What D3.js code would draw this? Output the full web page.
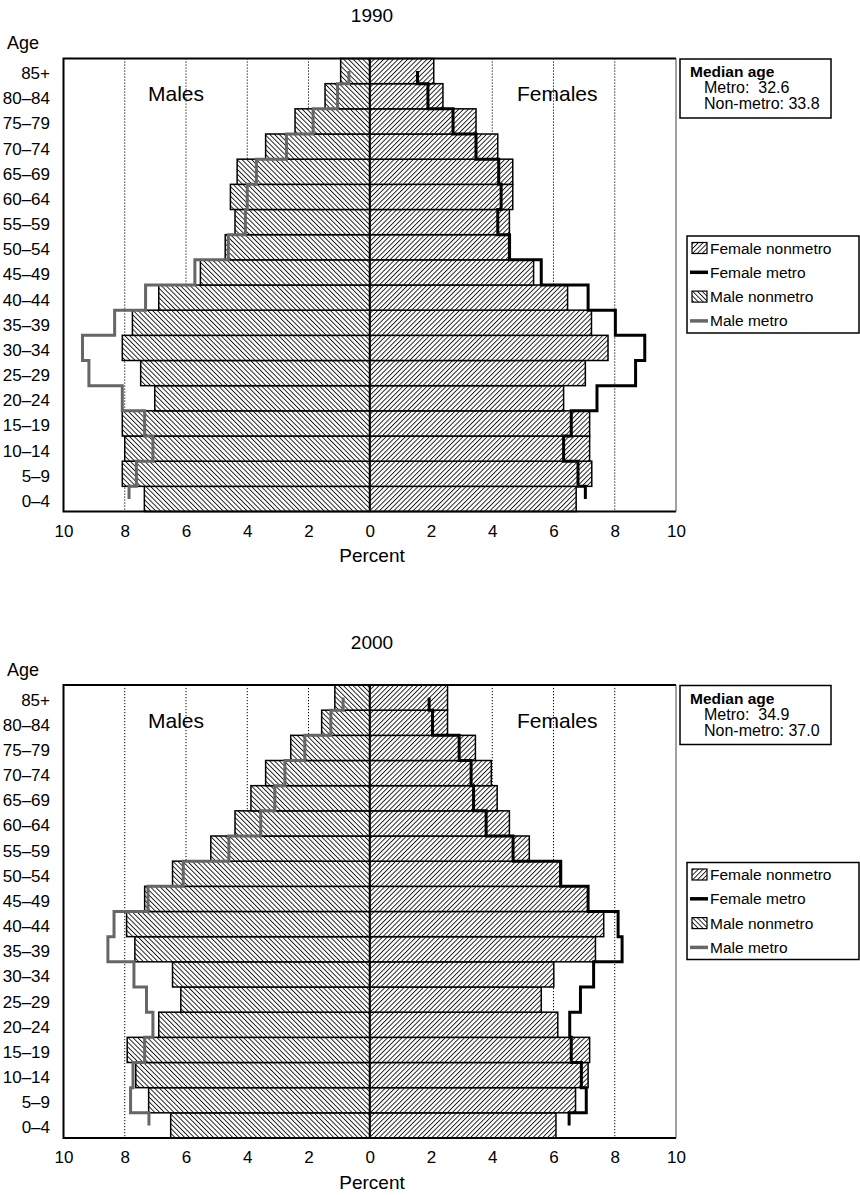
<!DOCTYPE html>
<html>
<head>
<meta charset="utf-8">
<script src="https://cdn.jsdelivr.net/npm/d3@7"></script>
<style>
  body { margin: 0; background: #fff; }
  svg { display: block; font-family: "Liberation Sans", Arial, Helvetica, sans-serif; }
</style>
</head>
<body>
<svg id="chart" width="860" height="1195"></svg>
<script>
// Age groups, youngest first
const ageGroups = ["0–4","5–9","10–14","15–19","20–24","25–29","30–34","35–39","40–44",
                   "45–49","50–54","55–59","60–64","65–69","70–74","75–79","80–84","85+"];

// Percent of population in each age group, 1990
const maleNonmetro1990   = [7.36, 8.08, 8.00, 8.08, 7.02, 7.48, 8.08, 7.75, 6.89, 5.53, 4.72, 4.40, 4.55, 4.33, 3.40, 2.44, 1.46, 0.95];
const maleMetro1990      = [7.86, 7.62, 7.08, 7.35, 8.08, 9.17, 9.38, 8.33, 7.32, 5.71, 4.62, 4.06, 4.00, 3.70, 2.72, 1.85, 1.05, 0.68];
const femaleNonmetro1990 = [6.74, 7.25, 7.18, 7.18, 6.33, 7.04, 7.78, 7.24, 6.46, 5.35, 4.59, 4.56, 4.67, 4.67, 4.18, 3.47, 2.39, 2.09];
const femaleMetro1990    = [7.04, 6.80, 6.33, 6.58, 7.42, 8.68, 8.98, 8.02, 7.13, 5.60, 4.56, 4.18, 4.29, 4.21, 3.47, 2.72, 1.90, 1.56];

// Percent of population in each age group, 2000
const maleNonmetro2000   = [6.50, 7.22, 7.64, 7.92, 6.89, 6.17, 6.44, 7.67, 7.94, 7.35, 6.44, 5.19, 4.40, 3.88, 3.40, 2.58, 1.57, 1.14];
const maleMetro2000      = [7.21, 7.81, 7.73, 7.35, 7.08, 7.29, 7.70, 8.55, 8.35, 7.24, 6.09, 4.60, 3.56, 3.10, 2.77, 2.12, 1.27, 0.87];
const femaleNonmetro2000 = [6.08, 6.72, 7.13, 7.18, 6.14, 5.60, 6.01, 7.37, 7.64, 7.13, 6.26, 5.21, 4.56, 4.16, 3.97, 3.45, 2.54, 2.54];
const femaleMetro2000    = [6.51, 7.07, 6.91, 6.58, 6.53, 6.88, 7.31, 8.24, 8.11, 7.13, 6.23, 4.68, 3.80, 3.39, 3.31, 2.92, 2.05, 1.94];

// Median ages
const medianMetro    = ["32.6", "34.9"];
const medianNonmetro = ["33.8", "37.0"];
const years = ["1990", "2000"];

// Axis ticks and dotted guide lines
const xTicks = [-10, -8, -6, -4, -2, 0, 2, 4, 6, 8, 10];
const gridValues = [-8, -6, -4, -2, 2, 4, 6, 8];

const legendItems = [
  { label: "Female nonmetro", kind: "fill", pattern: "hatchF" },
  { label: "Female metro",    kind: "line", color: "#000" },
  { label: "Male nonmetro",   kind: "fill", pattern: "hatchM" },
  { label: "Male metro",      kind: "line", color: "#666" }
];

const panels = [
  { year: years[0], mN: maleNonmetro1990, mM: maleMetro1990, fN: femaleNonmetro1990, fM: femaleMetro1990,
    metro: medianMetro[0], nonmetro: medianNonmetro[0], dy: 0 },
  { year: years[1], mN: maleNonmetro2000, mM: maleMetro2000, fN: femaleNonmetro2000, fM: femaleMetro2000,
    metro: medianMetro[1], nonmetro: medianNonmetro[1], dy: 626.5 }
];

const svg = d3.select("#chart");

// Hatch patterns: "/" for females, "\" for males
const defs = svg.append("defs");
function hatch(id, angle) {
  const s = 3.4;
  const p = defs.append("pattern")
    .attr("id", id)
    .attr("patternUnits", "userSpaceOnUse")
    .attr("width", s).attr("height", s)
    .attr("patternTransform", `rotate(${angle})`);
  p.append("rect").attr("width", s).attr("height", s).attr("fill", "#fff");
  p.append("line").attr("x1", 0.5).attr("y1", 0).attr("x2", 0.5).attr("y2", s)
    .attr("stroke", "#000").attr("stroke-width", 0.85);
}
hatch("hatchF", 45);
hatch("hatchM", -45);

const x = d3.scaleLinear().domain([-10, 10]).range([63.5, 676]);
const plotTop = 58.5, plotBottom = 511.5;
const y = d3.scaleBand().domain(ageGroups.slice().reverse()).range([plotTop, plotBottom]).padding(0);

// Vertical step outline: each age group gets a vertical run across its band,
// joined by horizontal jumps at band boundaries; the ends stop at band centres.
function stepPoints(rows, xv) {
  const pts = [];
  const n = rows.length;
  rows.forEach((d, i) => {
    const top = y(d.age), bot = top + y.bandwidth(), mid = top + y.bandwidth() / 2;
    pts.push([x(xv(d)), i === 0 ? mid : bot]);
    pts.push([x(xv(d)), i === n - 1 ? mid : top]);
  });
  return pts;
}
const stepLine = d3.line();

panels.forEach(pn => {
  const g = svg.append("g").attr("transform", `translate(0,${pn.dy})`);

  // Title
  g.append("text").attr("x", 372).attr("y", 22).attr("text-anchor", "middle")
    .attr("font-size", 19).text(pn.year);
  g.append("text").attr("x", 7).attr("y", 49).attr("font-size", 18).text("Age");

  // Dotted guide lines
  g.selectAll(".grid").data(gridValues).join("line")
    .attr("x1", d => x(d)).attr("x2", d => x(d))
    .attr("y1", plotTop).attr("y2", plotBottom)
    .attr("stroke", "#000").attr("stroke-width", 1).attr("stroke-dasharray", "1.2,1.8");

  // Bars: male nonmetro to the left, female nonmetro to the right
  const rows = ageGroups.map((a, i) => ({ age: a, m: pn.mN[i], f: pn.fN[i], mm: pn.mM[i], fm: pn.fM[i] }));
  g.selectAll(".mbar").data(rows).join("rect")
    .attr("x", d => x(-d.m)).attr("width", d => x(0) - x(-d.m))
    .attr("y", d => y(d.age)).attr("height", y.bandwidth())
    .attr("fill", "url(#hatchM)").attr("stroke", "#000").attr("stroke-width", 1.5);
  g.selectAll(".fbar").data(rows).join("rect")
    .attr("x", x(0)).attr("width", d => x(d.f) - x(0))
    .attr("y", d => y(d.age)).attr("height", y.bandwidth())
    .attr("fill", "url(#hatchF)").attr("stroke", "#000").attr("stroke-width", 1.5);

  // Zero line
  g.append("line").attr("x1", x(0)).attr("x2", x(0)).attr("y1", plotTop).attr("y2", plotBottom)
    .attr("stroke", "#000").attr("stroke-width", 2);

  // Metro step lines
  g.append("path").attr("d", stepLine(stepPoints(rows, d => -d.mm))).attr("fill", "none")
    .attr("stroke", "#666").attr("stroke-width", 3).attr("stroke-linejoin", "miter");
  g.append("path").attr("d", stepLine(stepPoints(rows, d => d.fm))).attr("fill", "none")
    .attr("stroke", "#000").attr("stroke-width", 3).attr("stroke-linejoin", "miter");

  // Frame
  g.append("path")
    .attr("d", `M${x(10)},${plotTop}H${x(-10)}V${plotBottom}H${x(10)}`)
    .attr("fill", "none").attr("stroke", "#000").attr("stroke-width", 2);
  g.append("line").attr("x1", x(10)).attr("x2", x(10)).attr("y1", plotTop).attr("y2", plotBottom)
    .attr("stroke", "#444").attr("stroke-width", 1);

  // Age labels
  g.selectAll(".age").data(ageGroups).join("text")
    .attr("x", 50).attr("y", d => y(d) + y.bandwidth() / 2 + 8)
    .attr("text-anchor", "end").attr("font-size", 17).text(d => d);

  // X axis
  const axis = d3.axisBottom(x).tickValues(xTicks).tickSize(0).tickPadding(0)
    .tickFormat(d => Math.abs(d));
  const ax = g.append("g").attr("transform", `translate(0,${plotBottom + 13})`).call(axis);
  ax.select(".domain").remove();
  ax.selectAll("text").attr("font-size", 17).attr("font-family", null).attr("fill", "#000");
  g.append("text").attr("x", 372).attr("y", 562).attr("text-anchor", "middle")
    .attr("font-size", 19).text("Percent");

  // Side labels
  g.append("text").attr("x", 148).attr("y", 101).attr("font-size", 21).text("Males");
  g.append("text").attr("x", 517).attr("y", 101).attr("font-size", 21).text("Females");

  // Median age box
  g.append("rect").attr("x", 680).attr("y", 59).attr("width", 151).attr("height", 59)
    .attr("fill", "#fff").attr("stroke", "#000").attr("stroke-width", 1.5);
  g.append("text").attr("x", 690).attr("y", 77).attr("font-size", 15.5).attr("font-weight", "bold")
    .text("Median age");
  g.append("text").attr("x", 704).attr("y", 93).attr("font-size", 16).attr("xml:space", "preserve")
    .text("Metro:  " + pn.metro);
  g.append("text").attr("x", 704).attr("y", 109).attr("font-size", 16)
    .text("Non-metro: " + pn.nonmetro);

  // Legend
  g.append("rect").attr("x", 687).attr("y", 236).attr("width", 172).attr("height", 97)
    .attr("fill", "#fff").attr("stroke", "#000").attr("stroke-width", 1.5);
  const li = g.selectAll(".leg").data(legendItems).join("g")
    .attr("transform", (d, i) => `translate(0,${248 + i * 24.3})`);
  li.filter(d => d.kind === "fill").append("rect")
    .attr("x", 692).attr("y", -5.5).attr("width", 15).attr("height", 11)
    .attr("fill", d => `url(#${d.pattern})`).attr("stroke", "#000").attr("stroke-width", 1.2);
  li.filter(d => d.kind === "line").append("line")
    .attr("x1", 690).attr("x2", 708).attr("y1", 0).attr("y2", 0)
    .attr("stroke", d => d.color).attr("stroke-width", 3.5);
  li.append("text").attr("x", 710).attr("y", 5.5).attr("font-size", 15.5).text(d => d.label);
});
</script>
</body>
</html>
